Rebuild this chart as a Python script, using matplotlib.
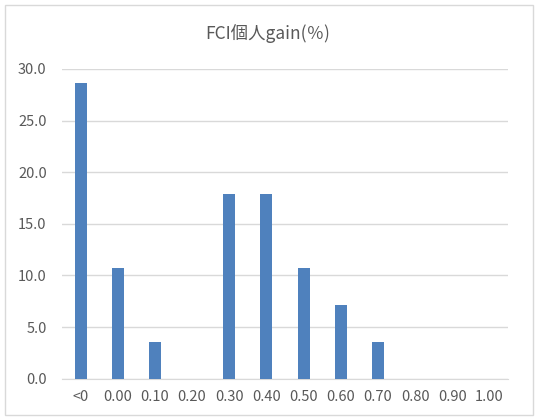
import matplotlib.pyplot as plt
from matplotlib.patches import Rectangle

# data
categories = ["<0", "0.00", "0.10", "0.20", "0.30", "0.40", "0.50", "0.60", "0.70", "0.80", "0.90", "1.00"]
values = [28.6, 10.7, 3.6, 0.0, 17.9, 17.9, 10.7, 7.1, 3.6, 0.0, 0.0, 0.0]
y_ticks = [0, 5, 10, 15, 20, 25, 30]

plt.rcParams['font.family'] = ['Noto Sans CJK JP', 'DejaVu Sans']

text_col = "#595959"
fig = plt.figure(figsize=(5.38, 4.19), dpi=100)
ax = fig.add_axes([62/538, 1 - 378.7/419, (508-62)/538, (378.7-69)/419])

x = range(len(categories))
ax.bar(x, values, width=0.32, color="#4F81BD", zorder=3)

ax.set_xlim(-0.5, len(categories) - 0.5)
ax.set_ylim(0, 30)
ax.set_yticks(y_ticks)
ax.set_yticklabels([f"{v:.1f}" for v in y_ticks])
ax.set_xticks(list(x))
ax.set_xticklabels(categories)
ax.tick_params(length=0, colors=text_col, labelsize=10.5)
ax.tick_params(axis="y", pad=11)
ax.tick_params(axis="x", pad=8)
ax.grid(axis="y", color="#D9D9D9", linewidth=1, zorder=0)
for s in ["top", "right", "left"]:
    ax.spines[s].set_visible(False)
ax.spines["bottom"].set_color("#D9D9D9")

fig.text(268/538, 1 - 34/419, "FCI個人gain(％)", ha="center", va="center",
         fontsize=12.5, color=text_col)

# outer chart border
fig.patches.append(Rectangle((5/538, 4/419), 528/538, 410/419, transform=fig.transFigure,
                             fill=False, edgecolor="#D9D9D9", linewidth=1))

plt.savefig("out.png", dpi=100)
